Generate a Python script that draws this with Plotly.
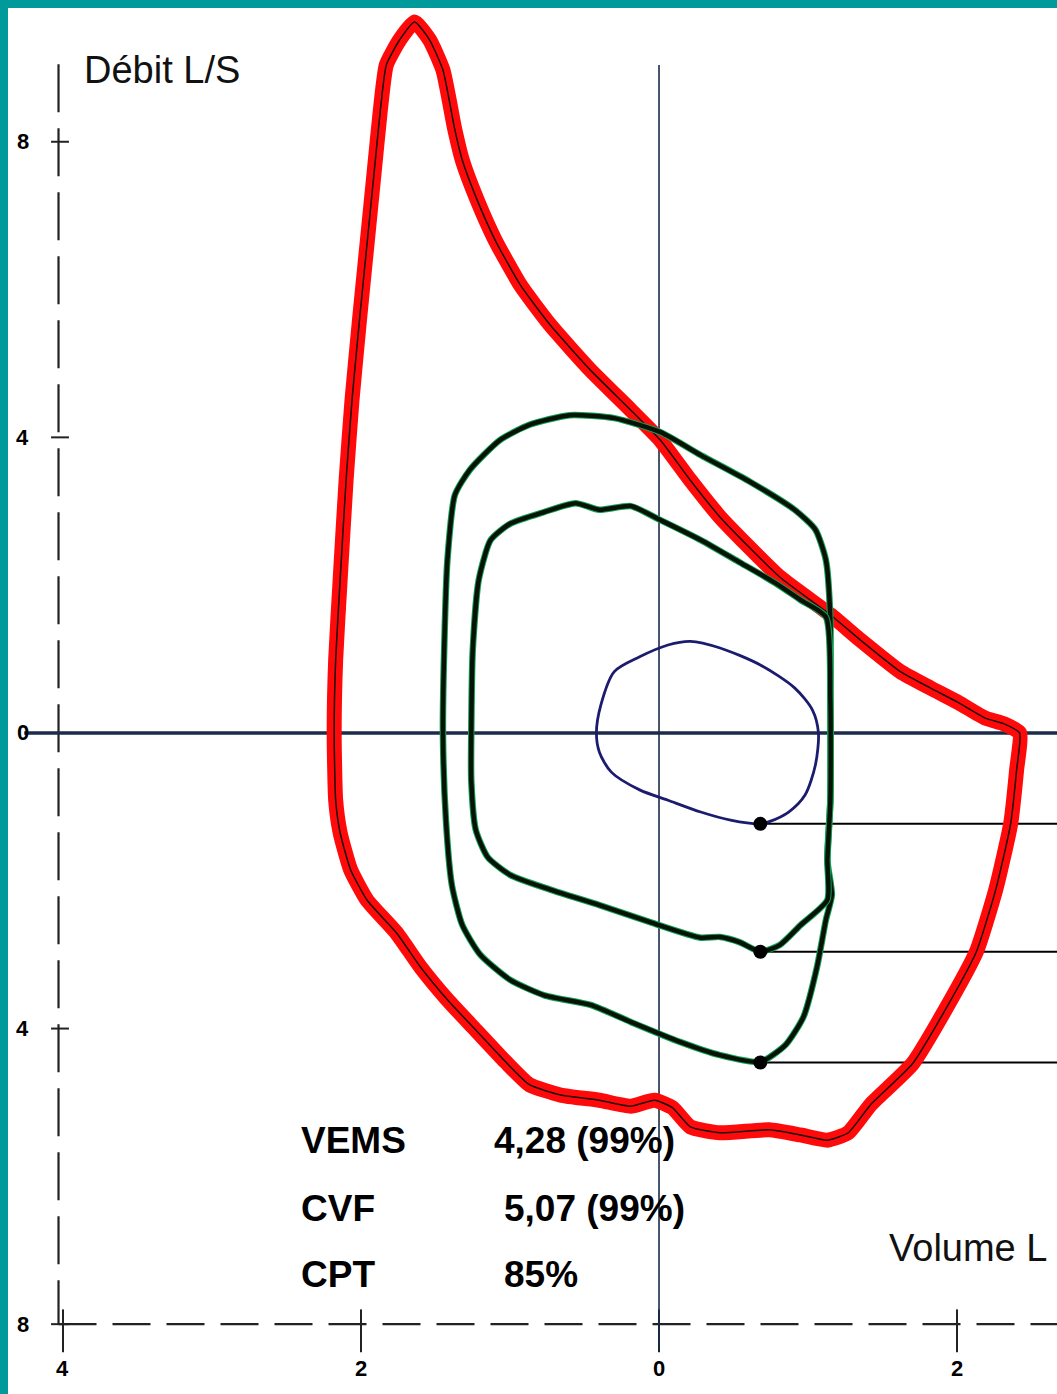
import plotly.graph_objects as go

# Flow-volume loops: volume (L) on x, flow (L/s) on y
red_vol = [2.42, 2.32, 2.19, 2.01, 1.82, 1.62, 1.35, 1.15, 0.81, 0.41, 0.21, 0.01, -0.19, -0.46,
           -0.73, -0.93, -1.10, -1.22, -1.32, -1.37, -1.45, -1.54, -1.64, -1.74, -1.83, -1.87,
           -1.91, -1.95, -2.01, -2.06, -2.10, -2.14, -2.17, -2.18, -2.17, -2.14, -2.07, -1.96,
           -1.76, -1.60, -1.42, -1.23, -1.03, -0.87, -0.66, -0.40, -0.19, -0.03, 0.09, 0.21,
           0.41, 0.74, 0.95, 1.13, 1.27, 1.42, 1.70, 1.92, 2.13, 2.26, 2.36, 2.40, 2.42]
red_flow = [0.00, 0.12, 0.20, 0.41, 0.61, 0.83, 1.26, 1.60, 2.11, 2.92, 3.42, 3.96, 4.37, 4.91,
            5.52, 6.06, 6.67, 7.21, 7.75, 8.16, 8.97, 9.38, 9.62, 9.38, 9.04, 8.43,
            7.62, 6.81, 5.59, 4.51, 3.42, 2.07, 0.99, 0.00, -0.91, -1.35, -1.85, -2.26,
            -2.71, -3.17, -3.61, -4.02, -4.45, -4.76, -4.90, -4.97, -5.05, -4.97, -5.07, -5.33,
            -5.41, -5.37, -5.44, -5.51, -5.41, -5.03, -4.48, -3.75, -2.96, -2.12, -1.23, -0.50, 0.00]

outer_vol = [0.68, 0.41, 0.14, -0.19, -0.46, -0.77, -1.00, -1.20, -1.32, -1.39, -1.43, -1.45,
             -1.44, -1.42, -1.37, -1.27, -1.07, -0.87, -0.60, -0.30, 0.01, 0.28, 0.61, 0.91,
             1.05, 1.12, 1.15, 1.15, 1.15, 1.13, 1.16, 1.12, 1.06, 0.97, 0.85, 0.68]
outer_flow = [-4.45, -4.36, -4.18, -3.91, -3.68, -3.55, -3.34, -3.00, -2.60, -2.06, -1.18, 0.00,
              1.26, 2.34, 3.22, 3.56, 3.96, 4.17, 4.30, 4.26, 4.07, 3.76, 3.40, 3.02,
              2.75, 2.34, 1.53, 0.45, -0.91, -1.72, -2.19, -2.53, -3.17, -3.84, -4.22, -4.45]

middle_vol = [0.68, 0.54, 0.41, 0.28, -0.06, -0.40, -0.73, -1.00, -1.15, -1.23, -1.26, -1.26,
              -1.25, -1.21, -1.13, -1.00, -0.77, -0.56, -0.40, -0.19, 0.01, 0.28, 0.54, 0.78,
              0.95, 1.12, 1.15, 1.15, 1.13, 1.13, 0.95, 0.81, 0.68]
middle_flow = [-2.96, -2.83, -2.76, -2.77, -2.56, -2.33, -2.12, -1.92, -1.68, -1.31, -0.64, 0.00,
               1.12, 2.07, 2.61, 2.83, 2.99, 3.11, 3.02, 3.07, 2.88, 2.61, 2.31, 2.03,
               1.80, 1.57, 0.45, -0.91, -1.72, -2.26, -2.60, -2.87, -2.96]

inner_vol = [-0.42, -0.39, -0.30, -0.13, 0.06, 0.21, 0.41, 0.68, 0.91, 1.03, 1.07, 1.05, 0.98,
             0.87, 0.74, 0.68, 0.48, 0.28, 0.06, -0.13, -0.32, -0.40, -0.42]
inner_flow = [0.00, 0.38, 0.83, 1.03, 1.19, 1.24, 1.15, 0.92, 0.61, 0.31, 0.00, -0.43, -0.84,
              -1.07, -1.20, -1.23, -1.18, -1.07, -0.91, -0.77, -0.53, -0.26, 0.00]

# Marked points on the inspiratory limbs
marker_vol = [0.68, 0.68, 0.68]
marker_flow = [-1.23, -2.96, -4.46]

# Axis ticks
y_tick_vals = [8, 4, 0, -4, -8]
y_tick_text = ["8", "4", "0", "4", "8"]
x_tick_vals = [-4, -2, 0, 2]
x_tick_text = ["4", "2", "0", "2"]

# Results table
result_names = ["VEMS", "CVF", "CPT"]
result_values = ["4,28 (99%)", "5,07 (99%)", "85%"]

X_MIN, X_MAX = -4.369, 2.671
Y_MIN, Y_MAX = -8.945, 9.81
AXIS_X = -4.03

NAVY = "#1b2b4b"
fig = go.Figure()

# Frame lines
fig.add_trace(go.Scatter(x=[AXIS_X, AXIS_X], y=[9.05, -8.0], mode="lines",
                         line=dict(color="#222", width=2.2, dash="48px,16px"), hoverinfo="skip"))
fig.add_trace(go.Scatter(x=[AXIS_X, X_MAX + 0.1], y=[-8.0, -8.0], mode="lines",
                         line=dict(color="#222", width=2.4, dash="38px,16px"), hoverinfo="skip"))
for yv in y_tick_vals:
    fig.add_trace(go.Scatter(x=[AXIS_X - 0.05, AXIS_X + 0.07], y=[yv, yv], mode="lines",
                             line=dict(color="#222", width=2), hoverinfo="skip"))
for xv in x_tick_vals:
    fig.add_trace(go.Scatter(x=[xv, xv], y=[-7.8, -8.38], mode="lines",
                             line=dict(color="#222", width=2), hoverinfo="skip"))
# Zero axes
fig.add_trace(go.Scatter(x=[-4.26, X_MAX + 0.1], y=[0, 0], mode="lines",
                         line=dict(color=NAVY, width=3.5), hoverinfo="skip"))
fig.add_trace(go.Scatter(x=[0, 0], y=[9.04, -8.35], mode="lines",
                         line=dict(color=NAVY, width=1.6), hoverinfo="skip"))

# Guide lines from the markers
for yv in marker_flow:
    fig.add_trace(go.Scatter(x=[marker_vol[0], X_MAX + 0.1], y=[yv, yv], mode="lines",
                             line=dict(color="black", width=2), hoverinfo="skip"))

# Maximal loop
fig.add_trace(go.Scatter(x=red_vol, y=red_flow, mode="lines",
                         line=dict(color="#ff0a0a", width=15, shape="spline", smoothing=0.5)))
fig.add_trace(go.Scatter(x=red_vol, y=red_flow, mode="lines",
                         line=dict(color="#1a0a0a", width=1.5, shape="spline", smoothing=0.5)))

# Intermediate loops
for vx, vy in [(outer_vol, outer_flow), (middle_vol, middle_flow)]:
    fig.add_trace(go.Scatter(x=vx, y=vy, mode="lines",
                             line=dict(color="#12a050", width=6.5, shape="spline", smoothing=0.6)))
    fig.add_trace(go.Scatter(x=vx, y=vy, mode="lines",
                             line=dict(color="#081208", width=4.5, shape="spline", smoothing=0.6)))

fig.add_trace(go.Scatter(x=inner_vol, y=inner_flow, mode="lines",
                         line=dict(color="#1c1c6e", width=2.8, shape="spline", smoothing=0.8)))

fig.add_trace(go.Scatter(x=marker_vol, y=marker_flow, mode="markers",
                         marker=dict(color="black", size=14)))

annotations = []
for yv, t in zip(y_tick_vals, y_tick_text):
    annotations.append(dict(x=-4.27, y=yv, text=f"<b>{t}</b>", showarrow=False,
                            font=dict(size=22, color="black", family="Liberation Sans")))
for xv, t in zip(x_tick_vals, x_tick_text):
    annotations.append(dict(x=xv, y=-8.6, text=f"<b>{t}</b>", showarrow=False,
                            font=dict(size=22, color="black", family="Liberation Sans")))

annotations.append(dict(x=-3.87, y=8.97, text="Débit L/S", showarrow=False, xanchor="left",
                        font=dict(size=38, color="#111", family="Liberation Sans")))
annotations.append(dict(x=1.53, y=-6.97, text="Volume L", showarrow=False, xanchor="left",
                        font=dict(size=38, color="#111", family="Liberation Sans")))

row_y = [-5.51, -6.43, -7.33]
value_x = [-1.12, -1.055, -1.055]
for name, val, yv, vx in zip(result_names, result_values, row_y, value_x):
    annotations.append(dict(x=-2.415, y=yv, text=f"<b>{name}</b>", showarrow=False, xanchor="left",
                            font=dict(size=37, color="black", family="Liberation Sans")))
    annotations.append(dict(x=vx, y=yv, text=f"<b>{val}</b>", showarrow=False, xanchor="left",
                            font=dict(size=37, color="black", family="Liberation Sans")))

fig.update_layout(
    width=1057, height=1394,
    margin=dict(l=8, t=8, r=0, b=0),
    paper_bgcolor="#009a9a",
    plot_bgcolor="white",
    showlegend=False,
    annotations=annotations,
    xaxis=dict(range=[X_MIN, X_MAX], visible=False, fixedrange=True),
    yaxis=dict(range=[Y_MIN, Y_MAX], visible=False, fixedrange=True),
)

fig.write_html("out.html", config={"displayModeBar": False})
